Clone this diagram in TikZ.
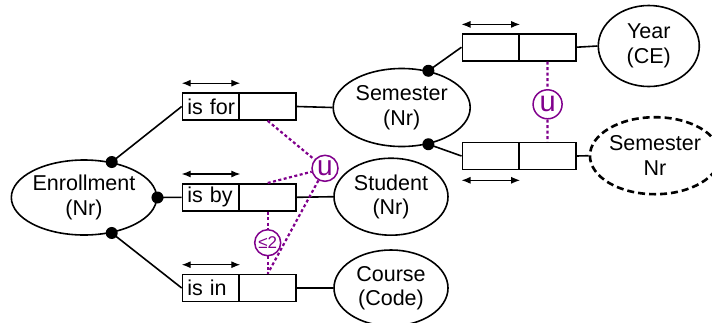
\documentclass[tikz,border=0pt]{standalone}
\usepackage{fontspec}
\setmainfont{Liberation Sans}
\usetikzlibrary{shapes.geometric,arrows.meta}
\definecolor{cpurple}{RGB}{128,0,140}
\begin{document}
\begin{tikzpicture}[x=1pt,y=-1pt,
  every node/.style={font=\fontsize{21.5}{24.5}\selectfont},
  entity/.style={ellipse,draw,line width=1.6pt,inner sep=0pt,align=center},
  cell/.style={draw,line width=1.6pt,minimum width=57pt,minimum height=27pt,inner sep=0pt},
  rolecell/.style={cell,text width=47.5pt,inner xsep=4.75pt,align=left},
  dot/.style={circle,fill,inner sep=0pt,minimum size=12pt},
  link/.style={line width=1.6pt},
  span/.style={line width=1.1pt,{Latex[length=9pt,width=7pt]}-{Latex[length=9pt,width=7pt]}},
  cons/.style={cpurple,line width=2.2pt,dash pattern=on 3pt off 2.5pt},
  ucirc/.style={circle,draw=cpurple,text=cpurple,line width=1.5pt,inner sep=0pt,minimum size=26pt}]
\useasboundingbox (0,0) rectangle (712,322);
\clip (0,0) rectangle (712,322);

% entity types
\node[entity,minimum width=144pt,minimum height=75pt] (enr) at (84,197.5) {Enrollment\\(Nr)};
\node[entity,minimum width=137pt,minimum height=78pt] (sem) at (401.7,107.5) {Semester\\(Nr)};
\node[entity,minimum width=114pt,minimum height=77pt] (stu) at (391,196.7) {Student\\(Nr)};
\node[entity,minimum width=114pt,minimum height=76pt] (crs) at (391,288) {Course\\(Code)};
\node[entity,minimum width=101pt,minimum height=81pt] (year) at (648.8,46) {Year\\(CE)};
\node[entity,line width=2.6pt,dash pattern=on 7pt off 4pt,minimum width=126pt,minimum height=77pt] (semnr) at (655,155.7) {Semester\\Nr};

% fact type role boxes
\node[rolecell] (forL) at (211,106.5) {\mbox{is for}};
\node[cell] (forR) at (267.7,106.5) {};
\node[rolecell] (byL) at (211,197.3) {\mbox{is by}};
\node[cell] (byR) at (267.7,197.3) {};
\node[rolecell] (inL) at (211,288) {\mbox{is in}};
\node[cell] (inR) at (267.7,288) {};
\node[cell] (trL) at (490.8,47.2) {};
\node[cell] (trR) at (547.5,47.2) {};
\node[cell] (brL) at (490.8,156) {};
\node[cell] (brR) at (547.5,156) {};

% uniqueness spans
\draw[span] ([yshift=9pt]forL.north west) -- ([yshift=9pt]forL.north east);
\draw[span] ([yshift=9pt]byL.north west) -- ([yshift=9pt]byL.north east);
\draw[span] ([yshift=9pt]inL.north west) -- ([yshift=9pt]inL.north east);
\draw[span] ([yshift=8.5pt]trL.north west) -- ([yshift=8.5pt]trL.north east);
\draw[span] ([yshift=-10pt]brL.south west) -- ([yshift=-10pt]brL.south east);

% mandatory role dots
\node[dot] (d1) at (enr.52) {};
\node[dot] (d2) at (enr.east) {};
\node[dot] (d3) at (enr.-52) {};
\node[dot] (d4) at (sem.54) {};
\node[dot] (d5) at (sem.-54) {};

% role connectors
\draw[link] (d1.center) -- (forL.west);
\draw[link] (d2.center) -- (byL.west);
\draw[link] (d3.center) -- (inL.west);
\draw[link] (forR.east) -- (sem.west);
\draw[link] (byR.east) -- (stu.west);
\draw[link] (inR.east) -- (crs.west);
\draw[link] (d4.center) -- (trL.west);
\draw[link] (d5.center) -- (brL.west);
\draw[link] (trR.east) -- (year.west);
\draw[link] (brR.east) -- (semnr.west);

% external constraints
\node[ucirc,font=\fontsize{28}{28}\selectfont] (uL) at (325,168.3) {u};
\node[ucirc,font=\fontsize{17}{17}\selectfont] (le2) at (267.7,242.7) {≤2};
\node[ucirc,font=\fontsize{29}{29}\selectfont,minimum size=29pt] (uR) at (547.6,104.3) {u};
\draw[cons] (forR.south) -- (uL);
\draw[cons] (byR.north) -- (uL);
\draw[cons] (uL) -- (inR.north);
\draw[cons] (byR.south) -- (le2);
\draw[cons] (le2) -- (inR.north);
\draw[cons] (trR.south) -- (uR);
\draw[cons] (uR) -- (brR.north);
\end{tikzpicture}
\end{document}
